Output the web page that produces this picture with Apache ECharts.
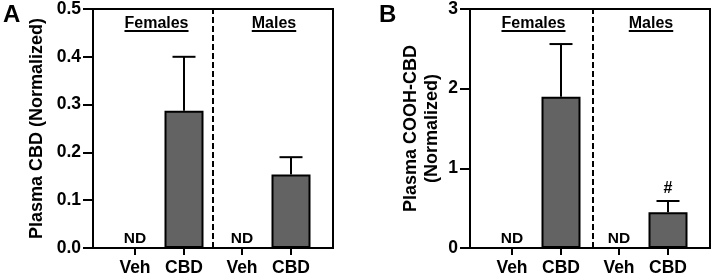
<!DOCTYPE html>
<html>
<head>
<meta charset="utf-8">
<script src="https://cdn.jsdelivr.net/npm/echarts@6/dist/echarts.min.js"></script>
<style>
  html, body { margin: 0; padding: 0; background: #fff; }
  #chart { width: 713px; height: 278px; }
</style>
</head>
<body>
<div id="chart"></div>
<script>
// data (null = not detected)
const categories = ['Veh', 'CBD', 'Veh', 'CBD'];
const groups = ['Females', 'Males'];
const cbdMean = [null, 0.287, null, 0.154];
const cbdSem = [0, 0.113, 0, 0.036];
const coohMean = [null, 1.90, null, 0.45];
const coohSem = [0, 0.66, 0, 0.14];
const coohSig = ['', '', '', '#'];
const ndLabel = 'ND';

// layout (axis units, 0..240 across each plot)
const slotX = [42, 91, 149, 198];
const groupX = [63.5, 181];
const FONT = 'Liberation Sans, Arial, sans-serif';

const dom = document.getElementById('chart');
const chart = echarts.init(dom, null, { renderer: 'canvas' });

function xAxis(gridIndex) {
  return {
    type: 'value', gridIndex: gridIndex, min: 0, max: 240,
    splitLine: { show: false },
    axisLine: { lineStyle: { color: '#000', width: 2 } },
    axisTick: { customValues: slotX, length: 7, lineStyle: { color: '#000', width: 2 } },
    axisLabel: {
      customValues: slotX, margin: 11, color: '#000',
      fontFamily: FONT, fontWeight: 'bold', fontSize: 17.5,
      formatter: v => categories[slotX.indexOf(v)]
    }
  };
}

function yAxis(gridIndex, max, interval, digits, name, nameGap) {
  return {
    type: 'value', gridIndex: gridIndex, min: 0, max: max, interval: interval,
    name: name, nameLocation: 'middle', nameGap: nameGap,
    nameTextStyle: { color: '#000', fontFamily: FONT, fontWeight: 'bold', fontSize: 18, lineHeight: 21 },
    splitLine: { show: false },
    axisLine: { show: true, lineStyle: { color: '#000', width: 2 } },
    axisTick: { show: true, length: 10, lineStyle: { color: '#000', width: 2 } },
    axisLabel: {
      margin: 12, color: '#000', fontFamily: FONT, fontWeight: 'bold', fontSize: 17.5,
      formatter: v => v.toFixed(digits)
    }
  };
}

function panelSeries(idx, mean, sem, sig, dividerX) {
  return [{
    type: 'bar', xAxisIndex: idx, yAxisIndex: idx,
    barWidth: 39,
    data: slotX.map((x, i) => [x, mean[i]]).filter(d => d[1] != null),
    itemStyle: { color: '#636363', borderColor: '#000', borderWidth: 2 },
    markLine: {
      silent: true, symbol: 'none', label: { show: false },
      lineStyle: { color: '#000', width: 2, type: [6, 3] },
      data: [{ xAxis: dividerX }]
    },
    z: 2
  }, {
    // error bars, significance marks and "ND" labels
    type: 'custom', xAxisIndex: idx, yAxisIndex: idx,
    data: slotX.map((x, i) => [x, mean[i] == null ? 0 : mean[i], sem[i], i, mean[i] == null ? 1 : 0]),
    renderItem: function (params, api) {
      const x = api.value(0), m = api.value(1), s = api.value(2), i = api.value(3), nd = api.value(4);
      const base = api.coord([x, m]);
      if (nd) {
        return {
          type: 'text',
          style: {
            text: ndLabel, x: base[0], y: base[1] - 1, align: 'center', verticalAlign: 'bottom',
            fill: '#000', font: 'bold 15.5px ' + FONT
          }
        };
      }
      const top = api.coord([x, m + s]);
      const children = [{
        type: 'line', shape: { x1: base[0], y1: base[1], x2: top[0], y2: top[1] },
        style: { stroke: '#000', lineWidth: 2 }
      }, {
        type: 'line', shape: { x1: top[0] - 11.5, y1: top[1], x2: top[0] + 11.5, y2: top[1] },
        style: { stroke: '#000', lineWidth: 2 }
      }];
      if (sig[i]) {
        children.push({
          type: 'text',
          style: {
            text: sig[i], x: top[0], y: top[1] - 4, align: 'center', verticalAlign: 'bottom',
            fill: '#000', font: 'bold 16px ' + FONT
          }
        });
      }
      return { type: 'group', children: children };
    },
    z: 3
  }];
}

const option = {
  animation: false,
  grid: [
    { left: 93, top: 9, width: 240, height: 239, show: true, borderColor: '#000', borderWidth: 2 },
    { left: 470, top: 9, width: 240, height: 239, show: true, borderColor: '#000', borderWidth: 2 }
  ],
  xAxis: [xAxis(0), xAxis(1)],
  yAxis: [
    yAxis(0, 0.5, 0.1, 1, 'Plasma CBD (Normalized)', 45),
    yAxis(1, 3, 1, 0, 'Plasma COOH-CBD\n(Normalized)', 27)
  ],
  series: [].concat(
    panelSeries(0, cbdMean, cbdSem, ['', '', '', ''], 119.5),
    panelSeries(1, coohMean, coohSem, coohSig, 123)
  )
};

chart.setOption(option);

// panel letters and underlined group headings
const ctx = document.createElement('canvas').getContext('2d');
const headFont = 'bold 16px ' + FONT;
ctx.font = headFont;
const graphics = [
  { type: 'text', left: 3, top: 3, style: { text: 'A', font: 'bold 24px ' + FONT, fill: '#000' } },
  { type: 'text', left: 379, top: 3, style: { text: 'B', font: 'bold 24px ' + FONT, fill: '#000' } }
];
[0, 1].forEach(g => {
  groups.forEach((name, k) => {
    const px = chart.convertToPixel({ xAxisIndex: g, yAxisIndex: g }, [groupX[k], 0])[0];
    const w = ctx.measureText(name).width;
    graphics.push({
      type: 'text', x: px, y: 24,
      style: { text: name, font: headFont, fill: '#000', align: 'center', verticalAlign: 'middle' }
    });
    graphics.push({
      type: 'line', shape: { x1: px - w / 2, y1: 31, x2: px + w / 2, y2: 31 },
      style: { stroke: '#000', lineWidth: 2 }
    });
  });
});
chart.setOption({ graphic: graphics });
</script>
</body>
</html>
